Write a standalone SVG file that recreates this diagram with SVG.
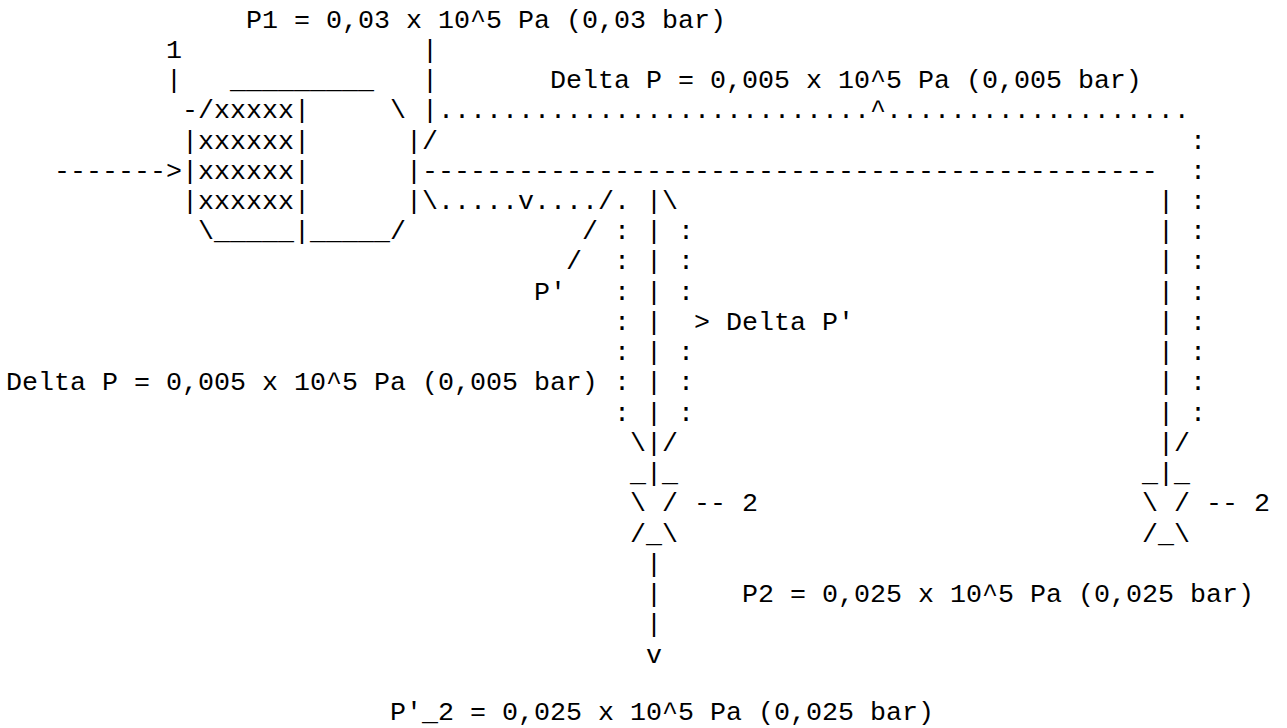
<svg xmlns="http://www.w3.org/2000/svg" width="1287" height="728" viewBox="0 0 1287 728" xml:space="preserve">
<style>
text { font-family: "Liberation Mono", "DejaVu Sans Mono", monospace; font-size: 26.667px; fill: #000; white-space: pre; }
</style>
<rect x="0" y="0" width="1287" height="728" fill="#ffffff"/>
<g id="fan">
<text x="230" y="88.0">_________</text>
<text x="182" y="118.2">-/xxxxx|</text>
<text x="390" y="118.2">\</text>
<text x="182" y="148.5">|xxxxxx|</text>
<text x="406" y="148.5">|/</text>
<text x="182" y="178.7">|xxxxxx|</text>
<text x="406" y="178.7">|</text>
<text x="182" y="208.9">|xxxxxx|</text>
<text x="406" y="208.9">|</text>
<text x="198" y="239.2">\_____|_____/</text>
</g>
<g id="valve-left">
<text x="630" y="481.1">_|_</text>
<text x="630" y="511.3">\ / -- 2</text>
<text x="630" y="541.6">/_\</text>
</g>
<g id="valve-right">
<text x="1142" y="481.1">_|_</text>
<text x="1142" y="511.3">\ / -- 2</text>
<text x="1142" y="541.6">/_\</text>
</g>
<g id="connectors">
<text x="54" y="178.7">-------&gt;</text>
<text x="422" y="57.7">|</text>
<text x="422" y="88.0">|</text>
<text x="422" y="118.2">|...........................^...................</text>
<text x="422" y="178.7">----------------------------------------------</text>
<text x="422" y="208.9">\.....v..../.</text>
<text x="582" y="239.2">/</text>
<text x="566" y="269.4">/</text>
<text x="646" y="208.9">|\</text>
<text x="614" y="239.2">: | :</text>
<text x="614" y="269.4">: | :</text>
<text x="614" y="299.7">: | :</text>
<text x="614" y="329.9">: |  &gt;</text>
<text x="614" y="360.1">: | :</text>
<text x="614" y="390.4">: | :</text>
<text x="614" y="420.6">: | :</text>
<text x="630" y="450.9">\|/</text>
<text x="646" y="571.8">|</text>
<text x="646" y="602.1">|</text>
<text x="646" y="632.3">|</text>
<text x="646" y="662.5">v</text>
<text x="1190" y="148.5">:</text>
<text x="1190" y="178.7">:</text>
<text x="1158" y="208.9">| :</text>
<text x="1158" y="239.2">| :</text>
<text x="1158" y="269.4">| :</text>
<text x="1158" y="299.7">| :</text>
<text x="1158" y="329.9">| :</text>
<text x="1158" y="360.1">| :</text>
<text x="1158" y="390.4">| :</text>
<text x="1158" y="420.6">| :</text>
<text x="1158" y="450.9">|/</text>
</g>
<g id="labels">
<text x="246" y="27.5">P1 = 0,03 x 10^5 Pa (0,03 bar)</text>
<text x="166" y="57.7">1</text>
<text x="166" y="88.0">|</text>
<text x="550" y="88.0">Delta P = 0,005 x 10^5 Pa (0,005 bar)</text>
<text x="534" y="299.7">P'</text>
<text x="726" y="329.9">Delta P'</text>
<text x="6" y="390.4">Delta P = 0,005 x 10^5 Pa (0,005 bar)</text>
<text x="742" y="602.1">P2 = 0,025 x 10^5 Pa (0,025 bar)</text>
<text x="390" y="719.5">P'_2 = 0,025 x 10^5 Pa (0,025 bar)</text>
</g>
</svg>
